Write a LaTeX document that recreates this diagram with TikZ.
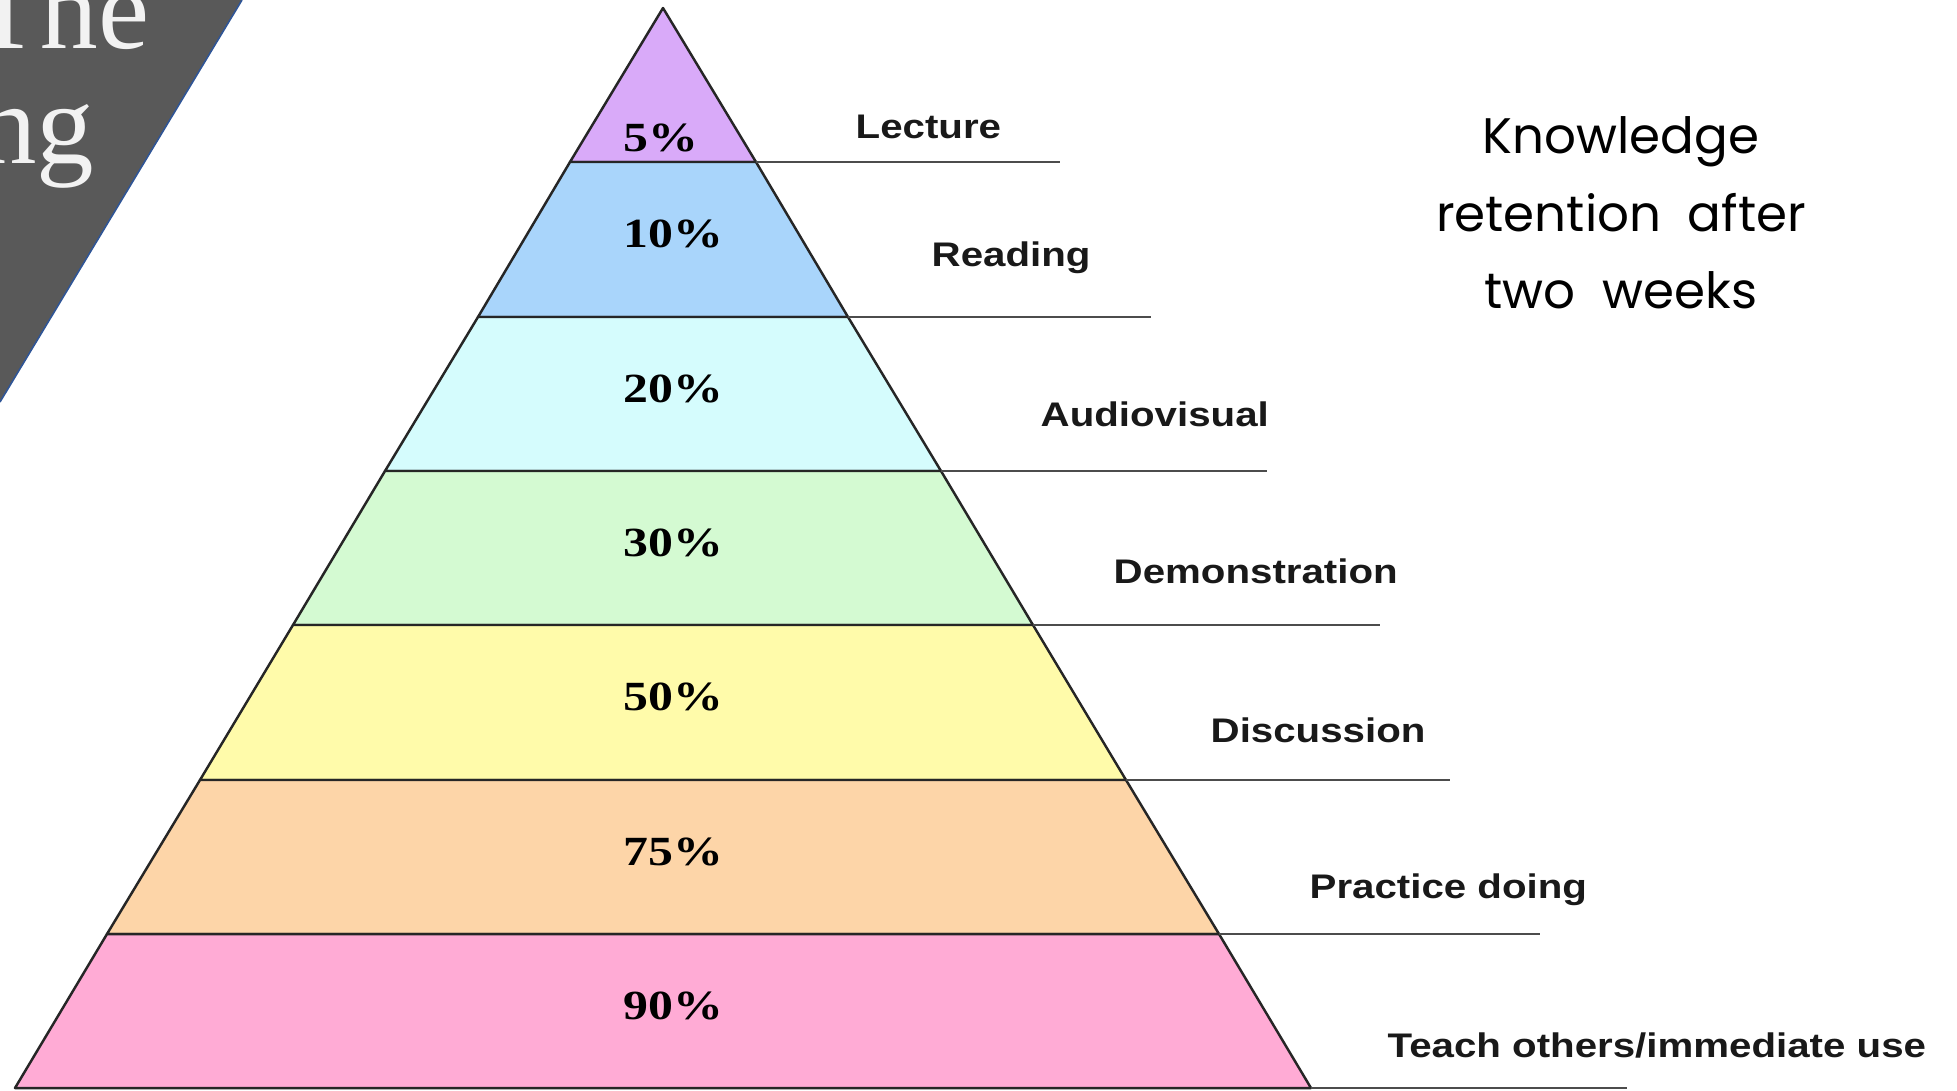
\documentclass[tikz,border=0pt]{standalone}
\usepackage{xcolor}
\usepackage{fontspec}
\usepackage{tikz}
\newfontfamily\pctfont[FakeStretch=1.2]{Liberation Serif}
\newfontfamily\lblfont[FakeStretch=1.18]{Liberation Sans}
\newfontfamily\notefont{Poppins}
\newfontfamily\slidefont{Liberation Serif}
\definecolor{lecturecol}{HTML}{D9AAF9}
\definecolor{readingcol}{HTML}{A9D5FB}
\definecolor{avcol}{HTML}{D5FCFD}
\definecolor{democol}{HTML}{D4FAD2}
\definecolor{disccol}{HTML}{FFFBAA}
\definecolor{practcol}{HTML}{FDD5A8}
\definecolor{teachcol}{HTML}{FFABD5}
\definecolor{slidegray}{HTML}{595959}
\definecolor{slideblue}{HTML}{2F5597}
\tikzstyle{band} = [draw=black!85, line width=0.7pt, line join=round]
\tikzstyle{pct} = [anchor=base west, inner sep=0pt, font=\pctfont\bfseries\fontsize{11.8}{14}\selectfont]
\tikzstyle{method} = [anchor=base west, inner sep=0pt, font=\lblfont\bfseries\fontsize{9.7}{12}\selectfont, text=black!90]
\tikzstyle{rule} = [draw=black!70, line width=0.7pt]
\tikzstyle{note} = [align=center, anchor=base, inner sep=0pt, font=\notefont\fontsize{14.2}{21.9}\selectfont]
\tikzstyle{slidetitle} = [anchor=base east, inner sep=0pt, text=white!95!black, font=\slidefont\fontsize{32.7}{32.7}\selectfont]

\begin{document}
\begin{tikzpicture}[x=0.01cm, y=-0.01cm]
	
	\useasboundingbox (0,0) rectangle (1957,1090);
	\clip (0,0) rectangle (1957,1090);
	\fill [white] (0,0) rectangle (1957,1090);
	
	\fill [slidegray] (0,0) -- (242,0) -- (0,402) -- cycle;
	\draw [slideblue, line width=0.45pt] (242,0) -- (0,402);
	\node (t1) [slidetitle] at (150,48) {The};
	\node (t2) [slidetitle] at (95,163) {ng};
	
	\coordinate (top) at (663,8);
	\coordinate (l1) at (570,162);  \coordinate (r1) at (756,162);
	\coordinate (l2) at (478,317);  \coordinate (r2) at (848,317);
	\coordinate (l3) at (385,471);  \coordinate (r3) at (941,471);
	\coordinate (l4) at (293,625);  \coordinate (r4) at (1033,625);
	\coordinate (l5) at (200,780);  \coordinate (r5) at (1126,780);
	\coordinate (l6) at (107,934);  \coordinate (r6) at (1219,934);
	\coordinate (l7) at (15,1088);  \coordinate (r7) at (1311,1088);
	
	\filldraw [band, fill=lecturecol] (top) -- (r1) -- (l1) -- cycle;
	\filldraw [band, fill=readingcol] (l1) -- (r1) -- (r2) -- (l2) -- cycle;
	\filldraw [band, fill=avcol] (l2) -- (r2) -- (r3) -- (l3) -- cycle;
	\filldraw [band, fill=democol] (l3) -- (r3) -- (r4) -- (l4) -- cycle;
	\filldraw [band, fill=disccol] (l4) -- (r4) -- (r5) -- (l5) -- cycle;
	\filldraw [band, fill=practcol] (l5) -- (r5) -- (r6) -- (l6) -- cycle;
	\filldraw [band, fill=teachcol] (l6) -- (r6) -- (r7) -- (l7) -- cycle;
	
	\node (p1) [pct] at (623,151) {5\%};
	\node (p2) [pct] at (623,247) {10\%};
	\node (p3) [pct] at (623,402) {20\%};
	\node (p4) [pct] at (623,556) {30\%};
	\node (p5) [pct] at (623,710) {50\%};
	\node (p6) [pct] at (623,865) {75\%};
	\node (p7) [pct] at (623,1019) {90\%};
	
	\coordinate (e1) at (1060,162);
	\coordinate (e2) at (1151,317);
	\coordinate (e3) at (1267,471);
	\coordinate (e4) at (1380,625);
	\coordinate (e5) at (1450,780);
	\coordinate (e6) at (1540,934);
	\coordinate (e7) at (1627,1088);
	
	\draw [rule] (r1) -- (e1);
	\draw [rule] (r2) -- (e2);
	\draw [rule] (r3) -- (e3);
	\draw [rule] (r4) -- (e4);
	\draw [rule] (r5) -- (e5);
	\draw [rule] (r6) -- (e6);
	\draw [rule] (r7) -- (e7);
	
	\node (m1) [method] at (855,138) {Lecture};
	\node (m2) [method] at (931,266) {Reading};
	\node (m3) [method] at (1040,426) {Audiovisual};
	\node (m4) [method] at (1113,583) {Demonstration};
	\node (m5) [method] at (1210,742) {Discussion};
	\node (m6) [method] at (1309,898) {Practice doing};
	\node (m7) [method] at (1387,1057) {Teach others/immediate use};
	
	\node (kr) [note] at (1621,308) {Knowledge\\retention~~after\\two~~weeks};
	
\end{tikzpicture}
\end{document}
